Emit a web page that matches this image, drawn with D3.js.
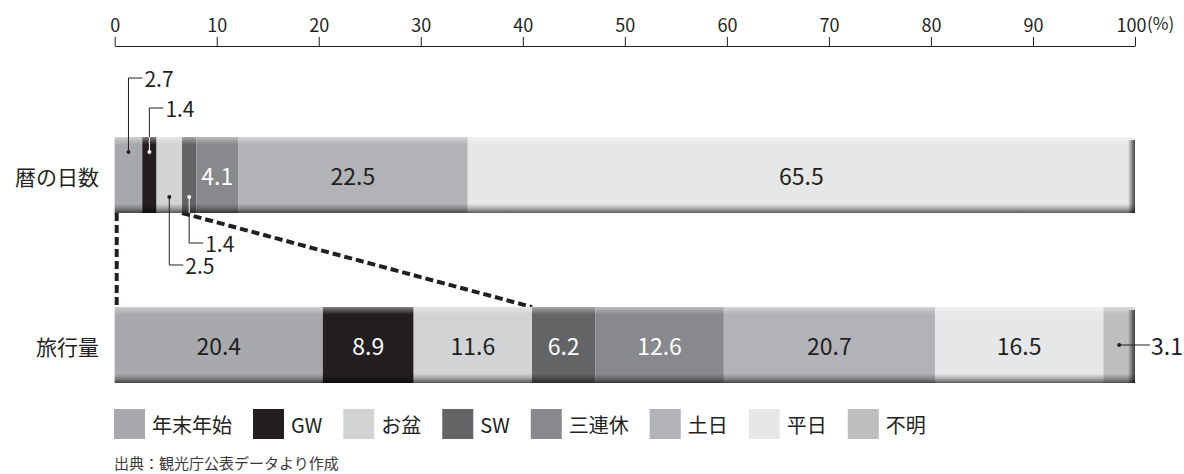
<!DOCTYPE html>
<html lang="ja">
<head>
    <meta charset="UTF-8">
    <title>旅行量</title>
    <script src="https://cdn.jsdelivr.net/npm/d3@7"></script>
    <style>
        body { margin: 0; background: #fff; }
        text { font-family: 'Noto Sans CJK JP', 'Noto Sans', sans-serif; fill: #231f20; }
    </style>
</head>
<body>
<script>
    const categories = ['暦の日数', '旅行量']
    const seriesNames = ['年末年始', 'GW', 'お盆', 'SW', '三連休', '土日', '平日', '不明']
    const seriesColors = ['#a7a9ac', '#231f20', '#d1d3d4', '#636466', '#88898c', '#b1b3b6', '#e6e7e8', '#bcbec0']
    const darkSeries = ['GW', 'SW', '三連休']
    const calendarDays = [2.7, 1.4, 2.5, 1.4, 4.1, 22.5, 65.5, 0]
    const travelVolume = [20.4, 8.9, 11.6, 6.2, 12.6, 20.7, 16.5, 3.1]
    const xTicks = [0, 10, 20, 30, 40, 50, 60, 70, 80, 90, 100]
    const source = '出典：観光庁公表データより作成'

    const [width, height] = [1184, 474]
    const ink = '#231f20'
    const valueSize = 23
    const calloutSize = 21
    const svg = d3.select('body').append('svg').attr('width', width).attr('height', height)

    const x = d3.scaleLinear().domain([0, 100]).range([114.7, 1135])
    const y = d3.scaleBand().domain(categories).range([137, 383]).paddingInner(0.553)
    const color = d3.scaleOrdinal().domain(seriesNames).range(seriesColors)

    // stacked segments per category
    const rows = [calendarDays, travelVolume].map((vals, r) => {
        let acc = 0
        return vals.map((v, i) => {
            const seg = {cat: categories[r], name: seriesNames[i], value: v, x0: acc, x1: Math.min(100, acc + v)}
            acc += v
            return seg
        })
    })

    // gradients for the bevelled bar look
    const defs = svg.append('defs')
    const shade = defs.append('linearGradient').attr('id', 'shade').attr('x1', 0).attr('y1', 0).attr('x2', 0).attr('y2', 1)
    ;[[0, '#fff', 0.45], [0.05, '#fff', 0.2], [0.1, '#fff', 0], [0.88, '#000', 0], [0.94, '#000', 0.25], [1, '#000', 0.6]]
        .forEach(([o, c, a]) => shade.append('stop').attr('offset', o).attr('stop-color', c).attr('stop-opacity', a))
    const side = defs.append('linearGradient').attr('id', 'side').attr('x1', 0).attr('y1', 0).attr('x2', 1).attr('y2', 0)
    ;[[0, 0], [0.4, 0.3], [1, 0.7]].forEach(([o, a]) => side.append('stop').attr('offset', o).attr('stop-color', '#000').attr('stop-opacity', a))

    // top axis
    const axis = svg.append('g').attr('transform', 'translate(0,46)')
        .call(d3.axisTop(x).tickValues(xTicks).tickSize(9).tickSizeOuter(0).tickPadding(5))
    axis.attr('font-size', null).attr('font-family', null)
    axis.select('.domain').attr('stroke', ink)
    axis.selectAll('.tick line').attr('stroke', ink)
    axis.selectAll('.tick text').style('font-size', '18px').style('fill', ink)
        .attr('dx', d => d === 100 ? -4 : 0)
    svg.append('text').attr('x', x(100) + 12).attr('y', 30).style('font-size', '17px').text('(%)')

    // dashed zoom lines between the bars
    const swStart = rows[0].find(d => d.name === 'SW')
    const swStart2 = rows[1].find(d => d.name === 'SW')
    const yBottom = y(categories[0]) + y.bandwidth()
    const yTop2 = y(categories[1])
    svg.append('g').attr('stroke', ink).attr('stroke-width', 4).attr('stroke-dasharray', '8,4').attr('fill', 'none')
        .selectAll('line').data([[x(0) + 2, x(0) + 2], [x(swStart.x0), x(swStart2.x0)]]).join('line')
        .attr('x1', d => d[0]).attr('y1', yBottom).attr('x2', d => d[1]).attr('y2', yTop2)

    // bars
    rows.forEach(row => {
        const g = svg.append('g')
        const cat = row[0].cat
        g.selectAll('rect.seg').data(row.filter(d => d.value > 0)).join('rect').attr('class', 'seg')
            .attr('x', d => x(d.x0)).attr('width', d => x(d.x1) - x(d.x0))
            .attr('y', y(cat)).attr('height', y.bandwidth())
            .attr('fill', d => color(d.name))
        g.append('rect').attr('x', x(0)).attr('width', x(100) - x(0)).attr('y', y(cat)).attr('height', y.bandwidth())
            .attr('fill', 'url(#shade)')
        g.append('rect').attr('x', x(100) - 7).attr('width', 7).attr('y', y(cat) + 3).attr('height', y.bandwidth() - 3)
            .attr('fill', 'url(#side)')
        g.selectAll('text.val').data(row.filter(d => d.value >= 4)).join('text').attr('class', 'val')
            .attr('x', d => x((d.x0 + d.x1) / 2)).attr('y', y(cat) + y.bandwidth() / 2)
            .attr('text-anchor', 'middle').attr('dominant-baseline', 'central').attr('font-size', valueSize)
            .style('fill', d => darkSeries.includes(d.name) ? '#fff' : ink)
            .text(d => d.value.toFixed(1))
        // category label
        svg.append('text').attr('x', 99).attr('y', y(cat) + y.bandwidth() / 2 + 1)
            .attr('text-anchor', 'end').attr('dominant-baseline', 'central').attr('font-size', 21).text(cat)
    })

    // leader labels for the thin segments
    const callouts = []
    const smallCal = rows[0].filter(d => d.value > 0 && d.value < 4)
    const levels = [78, 108, 265, 243] // label line heights: two above, two below
    smallCal.forEach((d, i) => {
        const up = i < 2
        callouts.push({d, cx: x((d.x0 + d.x1) / 2),
            cy: up ? y(d.cat) + 15 : y(d.cat) + y.bandwidth() - 16, ly: levels[i]})
    })
    callouts.forEach(c => {
        const dark = darkSeries.includes(c.d.name)
        const edge = c.cy < c.ly ? yBottom : y(c.d.cat)
        svg.append('path').attr('d', `M${c.cx},${edge}V${c.ly}H${c.cx + 14}`)
            .attr('fill', 'none').attr('stroke', ink).attr('stroke-width', 1)
        svg.append('line').attr('x1', c.cx).attr('x2', c.cx).attr('y1', c.cy).attr('y2', edge)
            .attr('stroke', dark ? '#fff' : ink).attr('stroke-width', 1)
        svg.append('circle').attr('cx', c.cx).attr('cy', c.cy).attr('r', 2).attr('fill', dark ? '#fff' : ink)
        svg.append('text').attr('x', c.cx + 16).attr('y', c.ly).attr('dominant-baseline', 'central')
            .attr('font-size', calloutSize).text(c.d.value.toFixed(1))
    })
    // small segment at the end of the travel bar
    rows[1].filter(d => d.value < 4).forEach(d => {
        const cx = x((d.x0 + d.x1) / 2), cy = y(d.cat) + y.bandwidth() / 2
        svg.append('line').attr('x1', cx).attr('x2', x(100) + 15).attr('y1', cy).attr('y2', cy).attr('stroke', ink)
        svg.append('circle').attr('cx', cx).attr('cy', cy).attr('r', 2).attr('fill', ink)
        svg.append('text').attr('x', x(100) + 16).attr('y', cy).attr('dominant-baseline', 'central')
            .attr('font-size', valueSize).text(d.value.toFixed(1))
    })

    // legend
    const legend = svg.append('g')
    let lx = 114
    seriesNames.forEach(name => {
        legend.append('rect').attr('x', lx).attr('y', 409).attr('width', 31).attr('height', 30).attr('fill', color(name))
        const t = legend.append('text').attr('x', lx + 38).attr('y', 424).attr('dominant-baseline', 'central')
            .attr('font-size', 20).text(name)
        lx += 38 + t.node().getComputedTextLength() + 21
    })

    svg.append('text').attr('x', 114).attr('y', 469).attr('font-size', 15).style('fill', '#3a3a3a').text(source)
</script>
</body>
</html>
